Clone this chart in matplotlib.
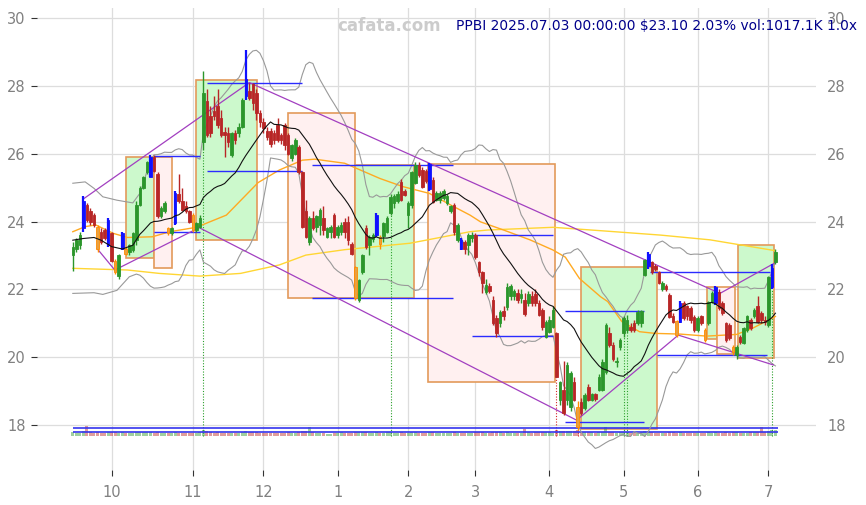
import numpy as np
import pandas as pd
import matplotlib
matplotlib.use("Agg")
import matplotlib.pyplot as plt
from matplotlib.patches import Rectangle

# trading days shown in the chart
holidays = ['2024-11-28', '2024-12-25', '2025-01-01', '2025-01-09', '2025-01-20',
            '2025-02-17', '2025-04-18', '2025-05-26', '2025-06-19']
dates = pd.bdate_range('2024-09-16', '2025-07-03', freq='C', holidays=holidays)

opens = [23.0, 23.2, 23.3, 23.8, 24.5, 24.3, 24.2, 23.85, 23.7, 23.75,
         23.3, 23.65, 22.85, 22.4, 23.2, 23.2, 23.1, 23.15, 23.45, 24.5,
         25.0, 25.45, 25.3, 25.9, 25.4, 24.15, 24.3, 23.8, 23.65, 23.95,
         24.8, 24.6, 24.45, 24.3, 24.2, 23.75, 23.85, 26.35, 27.55, 27.1,
         27.25, 27.4, 27.05, 26.65, 26.6, 25.95, 26.6, 26.6, 26.8, 27.7,
         27.85, 28.05, 27.8, 27.2, 26.95, 26.67, 26.67, 26.6, 26.85, 26.55,
         26.85, 26.55, 25.87, 26.0, 26.2, 25.45, 24.3, 23.4, 24.1, 23.85,
         23.9, 24.1, 23.55, 23.7, 24.2, 23.6, 23.7, 24.0, 24.0, 23.33,
         22.66, 21.7, 22.5, 23.8, 23.3, 23.48, 23.6, 23.54, 23.57, 23.7,
         24.25, 24.55, 24.6, 25.17, 24.9, 24.2, 24.49, 25.13, 25.67, 25.52,
         25.5, 24.96, 25.22, 24.63, 24.63, 24.7, 24.55, 24.3, 24.49, 23.45,
         23.45, 23.4, 23.3, 23.5, 23.6, 22.8, 22.5, 21.92, 22.1, 21.7,
         21.15, 21.0, 21.37, 21.48, 21.8, 21.8, 21.9, 21.75, 21.7, 21.6,
         21.8, 21.85, 21.6, 21.4, 20.6, 20.75, 20.9, 20.7, 18.74, 19.03,
         18.74, 18.53, 19.27, 18.53, 18.68, 18.5, 19.12, 18.74, 18.9, 19.03,
         19.03, 19.56, 20.7, 20.35, 19.85, 20.3, 20.7, 20.8, 20.9, 21.0,
         21.0, 21.0, 22.42, 22.7, 22.8, 22.7, 22.5, 22.0, 22.1, 21.83,
         21.2, 21.07, 21.05, 21.6, 21.5, 21.45, 21.18, 20.8, 21.2, 20.8,
         21.0, 21.63, 21.6, 21.92, 21.6, 21.0, 20.95, 20.3, 20.05, 20.6,
         20.42, 20.8, 21.1, 21.2, 21.5, 21.3, 21.1, 20.95, 22.07, 22.8]
highs = [23.4, 23.5, 23.7, 24.75, 24.55, 24.4, 24.25, 23.9, 23.8, 23.8,
         24.1, 23.7, 22.9, 23.05, 23.7, 23.25, 23.35, 23.7, 24.6, 25.05,
         25.35, 25.8, 25.95, 25.95, 25.45, 24.45, 24.6, 23.85, 23.85, 24.9,
         25.4, 25.0, 24.6, 24.35, 24.25, 24.0, 24.2, 28.45, 27.9, 27.4,
         27.7, 27.9, 27.3, 26.8, 26.8, 26.65, 26.7, 26.9, 27.65, 29.05,
         28.1, 28.1, 27.9, 27.3, 27.05, 26.8, 26.75, 26.7, 27.05, 26.6,
         26.9, 26.6, 26.3, 26.45, 26.25, 25.5, 24.65, 24.15, 24.3, 24.2,
         24.4, 24.45, 23.85, 23.9, 24.25, 23.9, 24.0, 24.1, 24.15, 23.4,
         22.7, 22.3, 23.05, 23.9, 23.6, 23.65, 24.25, 23.6, 24.0, 24.15,
         24.8, 24.8, 24.9, 25.25, 24.95, 24.6, 25.5, 25.75, 25.75, 25.6,
         25.55, 25.72, 25.3, 24.9, 24.9, 24.95, 24.8, 24.5, 24.55, 23.95,
         23.5, 23.45, 23.65, 23.7, 23.65, 22.85, 22.55, 22.3, 22.2, 21.8,
         21.25, 21.4, 21.5, 22.2, 22.15, 22.0, 22.0, 22.0, 21.9, 21.95,
         21.95, 22.0, 21.7, 21.45, 21.1, 21.2, 21.5, 20.75, 19.3, 19.9,
         19.85, 19.6, 19.4, 18.7, 18.8, 18.95, 19.2, 18.95, 18.95, 19.5,
         19.95, 21.0, 20.9, 20.45, 20.0, 20.55, 21.2, 21.25, 21.0, 21.1,
         21.4, 21.4, 22.9, 23.1, 22.85, 22.75, 22.55, 22.25, 22.15, 21.9,
         21.3, 21.1, 21.65, 21.65, 21.55, 21.5, 21.25, 21.2, 21.25, 20.85,
         21.65, 21.95, 22.1, 22.0, 21.65, 21.05, 21.0, 20.35, 20.35, 20.65,
         20.9, 21.25, 21.15, 21.45, 21.8, 21.35, 21.2, 22.4, 22.75, 23.2]
lows = [22.55, 23.1, 23.2, 23.7, 24.0, 23.9, 23.85, 23.1, 23.35, 23.45,
        23.25, 22.8, 22.45, 22.3, 23.15, 23.0, 23.0, 23.1, 23.3, 24.45,
        24.95, 25.4, 25.3, 25.45, 24.1, 24.1, 24.25, 23.6, 23.6, 23.9,
        24.55, 24.3, 24.25, 23.95, 23.7, 23.7, 23.8, 26.1, 26.5, 26.5,
        27.0, 26.75, 26.5, 25.9, 26.2, 25.9, 26.3, 26.5, 26.75, 27.6,
        27.6, 27.3, 27.0, 26.8, 26.6, 26.4, 26.2, 26.3, 26.35, 26.3,
        26.1, 25.95, 25.8, 25.95, 25.4, 23.8, 23.5, 23.3, 23.75, 23.7,
        23.6, 23.6, 23.5, 23.5, 23.5, 23.5, 23.6, 23.5, 23.3, 23.0,
        21.7, 21.62, 22.45, 23.2, 23.0, 23.4, 23.55, 23.2, 23.4, 23.65,
        24.2, 24.4, 24.55, 24.6, 24.75, 23.8, 24.4, 25.1, 25.3, 25.0,
        25.15, 24.9, 24.55, 24.6, 24.55, 24.65, 24.5, 24.25, 23.6, 23.4,
        23.15, 23.05, 23.0, 23.4, 22.9, 22.4, 21.9, 21.85, 21.9, 20.95,
        20.6, 20.9, 21.1, 21.4, 21.7, 21.7, 21.6, 21.6, 21.2, 21.5,
        21.5, 21.5, 21.2, 20.8, 20.55, 20.7, 20.85, 19.4, 18.6, 18.3,
        18.6, 18.4, 18.7, 17.85, 18.3, 18.45, 18.7, 18.7, 18.7, 19.0,
        19.0, 19.5, 20.3, 19.9, 19.7, 20.2, 20.6, 20.7, 20.75, 20.75,
        20.95, 20.9, 22.4, 22.6, 22.45, 22.55, 22.15, 21.95, 21.95, 21.15,
        21.0, 20.6, 21.0, 21.1, 21.1, 21.0, 20.75, 20.75, 20.95, 20.45,
        20.95, 21.6, 21.55, 21.4, 21.25, 20.45, 20.5, 20.05, 19.95, 20.4,
        20.4, 20.75, 20.8, 21.15, 21.0, 21.0, 20.95, 20.9, 22.0, 22.75]
closes = [23.25, 23.45, 23.6, 24.6, 24.05, 24.0, 23.9, 23.2, 23.4, 23.5,
          24.05, 22.85, 22.5, 23.0, 23.65, 23.05, 23.3, 23.65, 24.5, 25.0,
          25.3, 25.75, 25.9, 25.5, 24.15, 24.4, 24.55, 23.65, 23.8, 24.85,
          24.6, 24.35, 24.3, 24.0, 23.75, 23.95, 24.1, 27.8, 26.55, 26.6,
          27.1, 26.85, 26.55, 26.55, 26.35, 26.6, 26.4, 26.8, 27.58, 28.2,
          27.65, 27.5, 27.2, 26.93, 26.75, 26.5, 26.3, 26.4, 26.4, 26.4,
          26.25, 26.0, 26.25, 26.4, 25.45, 23.84, 23.55, 24.1, 23.8, 24.15,
          24.33, 23.75, 23.8, 23.85, 23.55, 23.85, 23.9, 23.7, 23.45, 23.04,
          21.75, 22.28, 23.0, 23.25, 23.55, 23.6, 24.2, 23.35, 23.95, 24.1,
          24.73, 24.75, 24.8, 24.63, 24.78, 24.55, 25.46, 25.67, 25.37, 25.02,
          25.2, 25.7, 24.58, 24.84, 24.85, 24.9, 24.75, 24.45, 23.69, 23.9,
          23.2, 23.2, 23.6, 23.6, 22.95, 22.5, 22.2, 22.13, 21.95, 21.0,
          20.7, 21.33, 21.2, 22.07, 22.1, 21.95, 21.7, 21.85, 21.27, 21.85,
          21.6, 21.6, 21.25, 20.9, 21.03, 21.1, 21.4, 19.42, 19.27, 18.35,
          19.77, 19.53, 18.74, 17.94, 18.35, 18.88, 18.74, 18.9, 18.75, 19.42,
          19.86, 20.95, 20.35, 19.95, 19.9, 20.5, 21.15, 21.1, 20.8, 20.8,
          21.33, 21.35, 22.87, 23.05, 22.5, 22.6, 22.2, 22.2, 22.0, 21.18,
          21.05, 20.65, 21.6, 21.15, 21.2, 21.1, 20.8, 21.15, 21.0, 20.5,
          21.63, 21.89, 22.07, 21.45, 21.3, 20.5, 20.55, 20.15, 20.3, 20.45,
          20.86, 21.2, 20.85, 21.4, 21.05, 21.1, 21.05, 22.37, 22.64, 23.1]
volumes = [620, 540, 580, 900, 1650, 700, 560, 640, 520, 480,
           600, 650, 700, 560, 610, 480, 520, 590, 640, 700,
           620, 680, 750, 590, 720, 560, 500, 470, 520, 610,
           560, 540, 500, 480, 590, 520, 610, 980, 760, 640,
           590, 620, 560, 540, 510, 580, 470, 530, 640, 820,
           700, 640, 610, 560, 540, 580, 520, 500, 560, 490,
           540, 600, 520, 560, 620, 900, 760, 1450, 700, 560,
           520, 480, 380, 420, 500, 560, 600, 540, 580, 560,
           720, 680, 600, 640, 560, 520, 620, 560, 580, 600,
           640, 580, 520, 600, 480, 560, 640, 700, 580, 540,
           520, 640, 600, 520, 480, 500, 460, 520, 640, 560,
           540, 500, 560, 520, 600, 640, 620, 560, 540, 680,
           700, 620, 560, 640, 580, 520, 560, 540, 1100, 600,
           560, 600, 640, 700, 660, 620, 580, 980, 900, 880,
           840, 760, 780, 960, 720, 680, 640, 600, 560, 620,
           680, 1500, 720, 640, 560, 600, 640, 620, 560, 540,
           580, 600, 900, 820, 640, 560, 520, 540, 500, 640,
           600, 560, 620, 540, 520, 560, 580, 520, 500, 560,
           600, 580, 640, 560, 540, 620, 580, 640, 600, 560,
           580, 540, 600, 640, 700, 1500, 620, 900, 980, 1017]

blue_bars = [3, 10, 14, 22, 29, 49, 86, 101, 110, 163, 172, 182, 198]
orange_bars = [7, 12, 15, 27, 34, 80, 87, 143, 171, 179, 187]

# start of the 20-day band (before 20 bars exist)
head_mid_x = [0, 3, 6, 8, 11, 14, 17]
head_mid_y = [23.45, 23.5, 23.53, 23.45, 23.26, 23.19, 23.3]
head_up_x = [0, 3.5, 6, 8.5, 12.5, 17]
head_up_y = [25.13, 25.17, 24.98, 24.73, 24.63, 24.55]
head_lo_x = [0, 6, 8.5, 12.5, 16, 18]
head_lo_y = [21.88, 21.9, 21.85, 21.97, 22.37, 22.45]

# longer averages
orange_x = [0, 3.5, 6.5, 11.5, 15.5, 22.5, 27.5, 35, 43.5, 52.5, 58.5, 65, 68.5, 77, 87,
            93.5, 101, 107, 112.5, 115.5, 122, 129.5, 136, 139.5, 143.5, 149.5, 151.5,
            155.5, 160.5, 165, 172, 179.5, 188, 192.5, 199]
orange_y = [23.7, 23.85, 23.9, 23.65, 23.53, 23.55, 23.7, 23.83, 24.19, 25.15, 25.52, 25.81,
            25.84, 25.72, 25.27, 25.03, 24.83, 24.49, 24.19, 23.99, 23.75, 23.46, 23.16, 22.95,
            22.32, 21.78, 21.64, 21.05, 20.75, 20.7, 20.68, 20.62, 20.67, 20.85, 21.2]
yellow_x = [0, 15.5, 24.5, 36, 47.5, 58.5, 66, 77, 95.5, 112.5, 117.5, 136, 149.5, 166.5, 180.5, 199]
yellow_y = [22.62, 22.57, 22.47, 22.39, 22.47, 22.72, 23.01, 23.17, 23.36, 23.7, 23.75, 23.83,
            23.73, 23.6, 23.46, 23.14]

# zigzag channel lines
zz_up_x = [2.9, 50.0, 183.3, 198.7]
zz_up_y = [24.66, 28.10, 21.88, 22.77]
zz_lo_x = [6.9, 11.9, 35.8, 142.7, 171.5, 198.4]
zz_lo_y = [23.2, 22.57, 23.82, 18.14, 20.65, 19.77]

# boxes
box_x0 = [15.2, 23.0, 35.0, 61.0, 80.0, 100.7, 143.8, 179.7, 182.6, 188.5]
box_x1 = [23.0, 28.0, 52.1, 80.0, 96.7, 136.6, 165.6, 182.6, 187.6, 198.7]
box_lo = [22.92, 22.62, 23.45, 21.74, 21.74, 19.26, 17.88, 20.53, 20.08, 19.97]
box_hi = [25.91, 25.91, 28.19, 27.19, 25.67, 25.70, 22.65, 22.08, 22.06, 23.31]
box_up = [True, False, True, False, True, False, True, True, False, True]

# blue support / resistance segments
lvl_x0 = [23.0, 23.0, 38.0, 38.0, 67.8, 67.8, 113.1, 113.1, 139.5, 139.5, 163.5, 165.5]
lvl_x1 = [36.0, 36.0, 64.9, 64.9, 107.7, 107.7, 136.0, 136.0, 161.8, 161.8, 197.5, 196.7]
lvl_y = [25.92, 23.69, 28.10, 25.48, 25.66, 21.74, 23.60, 20.62, 21.35, 18.08, 22.52, 20.06]

green_marks = [37, 90, 156, 157, 198]
red_marks = [137, 143]

n = len(closes)
assert len(dates) == n
x = np.arange(n)
c = pd.Series(closes)
sma = c.rolling(20).mean()
sd = c.rolling(20).std(ddof=0)
mid_x = head_mid_x + list(range(19, n))
mid_y = head_mid_y + list(sma[19:])
up_x = head_up_x + list(range(19, n))
up_y = head_up_y + list((sma + 2 * sd)[19:])
lo_x = head_lo_x + list(range(19, n))
lo_y = head_lo_y + list((sma - 2 * sd)[19:])

fig = plt.figure(figsize=(8.66, 5.05), dpi=100)
ax = fig.add_axes([37 / 866, 35 / 505, 779 / 866, 462 / 505])
ax.set_xlim(-10.14, 210.5)
ax.set_ylim(16.67, 30.3)

GREEN = '#2b962b'
RED = '#b82626'

for i in range(len(box_x0)):
    face = '#ccf9cc' if box_up[i] else '#fff0f0'
    ax.add_patch(Rectangle((box_x0[i], box_lo[i]), box_x1[i] - box_x0[i], box_hi[i] - box_lo[i],
                           facecolor=face, edgecolor='#e39a5a', lw=1.2, zorder=1))

# volume at the bottom of the price panel
vbase = 17.67
vscale = 0.295 / max(volumes)
vcol = [GREEN if closes[i] >= opens[i] else RED for i in range(n)]
ax.bar(x, np.array(volumes) * vscale, bottom=vbase, width=0.85, color=vcol, alpha=0.45, zorder=2)
vmean = np.mean(volumes) * vscale
ax.hlines([vbase + vmean, vbase + 2 * vmean], 0, n - 1 + 0.8, colors='#3333ee', lw=1.2, zorder=3)

for b in green_marks:
    ax.vlines(b, vbase, lows[b], colors='#2ca02c', lw=0.8, linestyles=(0, (1, 1.5)), zorder=2)
for b in red_marks:
    ax.vlines(b, vbase, lows[b], colors='#d62728', lw=0.8, linestyles=(0, (1, 1.5)), zorder=2)

ax.plot(yellow_x, yellow_y, color='#ffd633', lw=1.0, zorder=3)
ax.plot(orange_x, orange_y, color='#ffaa22', lw=1.0, zorder=3)
ax.plot(up_x, up_y, color='#999999', lw=0.8, zorder=3)
ax.plot(lo_x, lo_y, color='#999999', lw=0.8, zorder=3)

ax.hlines(lvl_y, lvl_x0, lvl_x1, colors='#2b2bff', lw=1.0, zorder=4)
ax.plot(zz_up_x, zz_up_y, color='#a23fc0', lw=0.9, zorder=4)
ax.plot(zz_lo_x, zz_lo_y, color='#a23fc0', lw=0.9, zorder=4)

# candles
for i in range(n):
    o, h, l, cl = opens[i], highs[i], lows[i], closes[i]
    if i in blue_bars:
        col, edge, wlw = '#1010ff', '#1010ff', 1.6
    elif i in orange_bars:
        col, edge, wlw = '#e8a040', '#ff8c00', 1.0
    elif cl >= o:
        col, edge, wlw = GREEN, GREEN, 1.0
    else:
        col, edge, wlw = RED, RED, 1.0
    ax.vlines(i, l, h, colors=edge, lw=wlw, zorder=5)
    ax.bar(i, max(abs(cl - o), 0.03), bottom=min(o, cl), width=0.72, color=col,
           edgecolor=edge, lw=0.6, zorder=6)

ax.plot(mid_x, mid_y, color='#111111', lw=0.8, zorder=7)

# axes styling
month_idx = [i for i in range(1, n) if dates[i].month != dates[i - 1].month]
ax.set_xticks(month_idx)
ax.set_xticklabels([str(dates[i].month) for i in month_idx])
ax.set_yticks([18, 20, 22, 24, 26, 28, 30])
ax.grid(True, color='#dddddd', lw=0.9)
ax.set_axisbelow(True)
for s in ax.spines.values():
    s.set_visible(False)
ax.tick_params(axis='both', colors='#333333', labelcolor='#808080', labelsize=10.5, length=4)
ax.tick_params(axis='y', left=True, right=False, labelleft=True, labelright=True, pad=4)
ax.tick_params(axis='x', pad=7)

fig.text(389 / 866, 1 - 26 / 505, 'cafata.com', ha='center', va='center', color='#cccccc',
         fontsize=12, fontweight='bold')
fig.text(857 / 866, 1 - 26 / 505, 'PPBI 2025.07.03 00:00:00 $23.10 2.03% vol:1017.1K 1.0x',
         ha='right', va='center', color='#00008b', fontsize=9.9)

fig.savefig('out.png', dpi=100)
